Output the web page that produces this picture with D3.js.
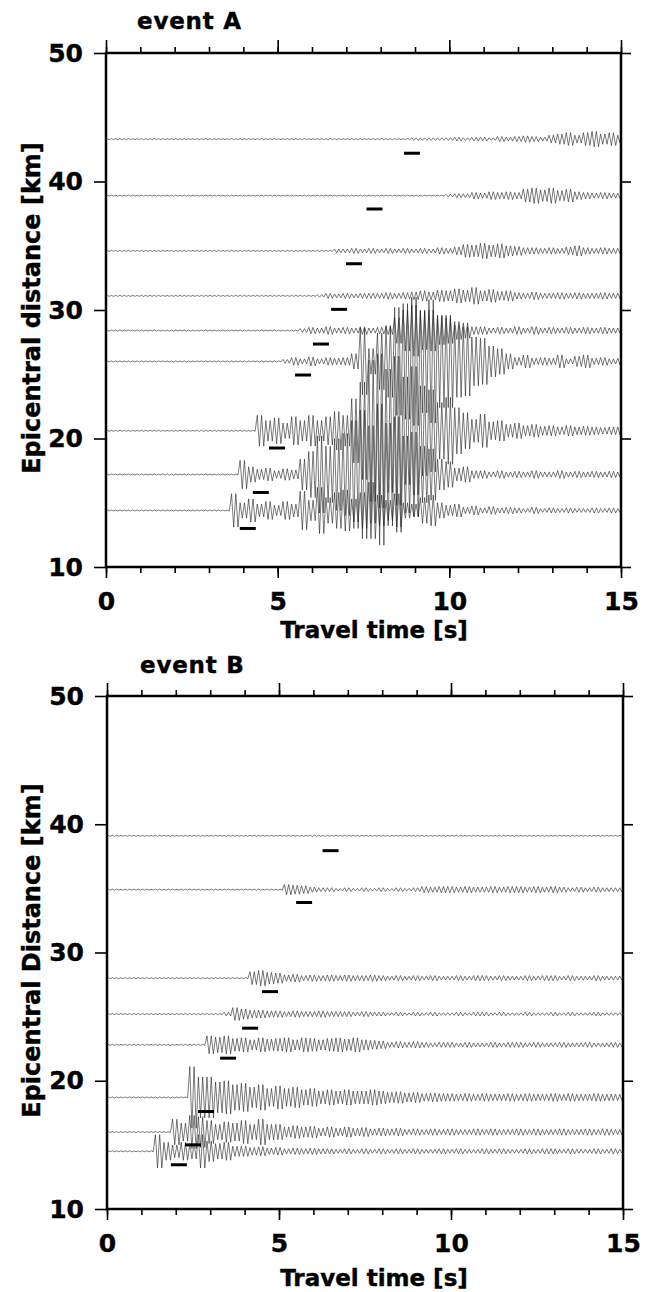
<!DOCTYPE html>
<html>
<head>
    <meta charset="utf-8">
    <title>event A / event B</title>
    <style>
        body { margin: 0; background: #fff; }
        text { font-family: "DejaVu Sans", sans-serif; font-weight: bold; fill: #000; stroke: #000; stroke-width: 0.4px; }
        .tick text { font-size: 25px; }
        .tick line { stroke: #000; stroke-width: 1.6px; }
        path.trace { fill: none; stroke: #222; stroke-width: 0.6px; stroke-linejoin: round; }
        line.pick { stroke: #000; stroke-width: 3px; }
        rect.frame { fill: none; stroke: #000; stroke-width: 2.5px; }
    </style>
</head>
<body>
<script src="https://cdn.jsdelivr.net/npm/d3@7/dist/d3.min.js"></script>
<script>

// amplitude samples are every 0.25 s from 0 to 15 s (61 per trace),
// half peak-to-peak, in units of 0.1 km on the distance axis
var stepT = 0.25;
var timeTicks = [0, 1, 2, 3, 4, 5, 6, 7, 8, 9, 10, 11, 12, 13, 14, 15];
var timeLabels = [0, 5, 10, 15];
var distTicks = [10, 20, 30, 40, 50];

// ---------- event A ----------
var distA = [14.4, 17.2, 20.6, 26.0, 28.4, 31.1, 34.6, 38.9, 43.3];

var a144 = [.4,.4,.4,.4, .4,.4,.4,.4, .4,.4,.4,.4, .4,.5,.4,13, 6,9,5,7, 4,7,5,15, 8,18,10,14,
            16,9,14,22, 12,8,13,6, 5,10,12,6, 4,5,2.5,3.5, 2,3,2,2.5, 2,1.5,2.5,1.5, 2,1.5,2,1.5,
            1.5,2,1.5,2, 1.5];
var a172 = [.4,.4,.4,.4, .4,.4,.4,.6, .4,.4,.4,.4, .4,.4,.4,.4, 11,6,4,5, 3,4.5,3.5,12, 18,30,22,28,
            32,42,50,38, 55,40,45,30, 33,22,20,12, 10,5,6,3, 3,2,3,2, 2.5,2,3,2, 2,3,2,2.5,
            2,2.5,2,2.5, 2];
var a206 = [.4,.4,.4,.4, .4,.4,.4,.4, .4,.4,.4,.6, .4,.4,.4,.4, .4,.4,12,8, 10,6,11,8, 12,8,11,15,
            12,25,38,55, 60,48,58,42, 50,35,32,22, 26,18,14,9, 13,7,8,5, 6,4,5,3.5, 4,3,4,3,
            3.5,3,2.5,3, 3];
var a260 = [.4,.4,.4,.4, .4,.4,.4,.4, .4,.4,.4,.4, .4,.4,.4,.4, .4,.4,.4,.4, .4,1.5,3,2, 3.5,2,3,2.5,
            3,6,26,10, 22,28,42,45, 50,40,48,36, 36,28,27,19, 18,12,10,6, 3,5,2.5,3, 2.5,5,2,4,
            5,2.5,3,2, 2.5];
var a284 = [.4,.4,.4,.4, .4,.4,.4,.4, .4,.4,.4,.4, .4,.4,.4,.4, .4,.4,.4,.4, .4,.4,.4,1.5, 2.5,2,3,2,
            2.5,2,3,2, 2.5,3,10,16, 20,15,16,11, 10,7,6,3, 3,2,2.5,2, 3,2,3,2, 2.5,2,2.5,2,
            2.5,2,2.5,2, 2];
var a311 = [.4,.4,.4,.4, .4,.4,.4,.4, .4,.4,.4,.4, .4,.4,.4,.4, .4,.4,.4,.4, .4,.4,.4,.4, .4,1,2,1.5,
            2,1.5,2,2, 2,2.5,2,2.5, 3,4,3,4.5, 4,5.5,4.5,6.5, 4,5,3.5,4, 2.5,2,3,2, 2,2.5,2,2.5,
            2,2,2.5,2, 2];
var a346 = [.4,.4,.4,.4, .4,.4,.4,.4, .4,.4,.4,.4, .4,.4,.4,.4, .4,.4,.4,.4, .4,.4,.4,.4, .4,.4,.4,1.5,
            1.5,2,1.5,2, 1.5,2,1.5,2, 1.5,2,1.5,2.5, 2,3,5,4.5, 6,4.5,5.5,4, 3.5,2.5,2.5,2, 2.5,2,3,4,
            2.5,2,2.5,2, 2];
var a389 = [.4,.4,.4,.4, .4,.4,.4,.4, .4,.4,.4,.4, .4,.4,.4,.4, .4,.4,.4,.4, .4,.4,.4,.4, .4,.4,.4,.4,
            .4,.4,.4,.4, .4,.4,.4,.4, .4,.4,.4,.4, 1,1.5,1.5,2.5, 2,3,2.5,3, 2.5,5,6,4.5, 6,4,5,3,
            2.5,2,2.5,2, 2];
var a433 = [.4,.4,.4,.4, .4,.4,.4,.4, .4,.4,.4,.4, .4,.4,.4,.4, .4,.4,.4,.4, .4,.4,.4,.4, .4,.4,.4,.4,
            .4,.4,.4,.4, .4,.4,.4,.4, 1,1,1,1, 1,1.5,1,1.5, 1.5,1,2,1.5, 2,2.5,2,1.5, 3,4,5,3,
            5,6,4,5, 3];
var ampA = [a144, a172, a206, a260, a284, a311, a346, a389, a433];

// arrival picks (time in s, distance of the bar in km)
var pickTA = [4.13, 4.51, 4.98, 5.74, 6.26, 6.79, 7.22, 7.82, 8.91];
var pickKmA = [13.0, 15.8, 19.26, 24.94, 27.35, 30.05, 33.6, 37.86, 42.2];

// ---------- event B ----------
var distB = [14.5, 16.0, 18.7, 22.8, 25.2, 28.0, 34.9, 39.1];

var b145 = [.4,.4,.4,.4, .4,.4,13,7, 5,7,6,13, 8,6,7,4, 4,3,3.5,2.5, 3,2,2.5,2, 2.5,2,2,1.5,
            2,1.5,2,1.5, 2,1.5,2,1.5, 2,1.5,1.5,2, 1.5,2,1.5,1.5, 2,1.5,2,1.5, 1.5,2,1.5,2, 2,1.5,2,1.5,
            1.5,2,1.5,2, 1.5];
var b160 = [.4,.4,.4,.4, .4,.4,.4,.4, 10,7,13,12, 9,6,8,7, 9,6,10,6, 6,4,5,4, 4.5,3,4,3,
            4,3,3.5,2.5, 3,2.5,3,2, 2.5,2,2.5,2, 2.5,2,2,2.5, 2,2.5,2,2, 2.5,2,2.5,2, 2,2.5,2,2,
            2.5,2,2.5,2, 2];
var b187 = [.4,.4,.4,.4, .4,.4,.4,.4, .4,.4,24,16, 16,12,13,10, 11,8,10,7, 9,7,8,6, 7,5,6,5,
            6,5,5,6, 5,4,4.5,3.5, 4,3,3.5,3, 3,2.5,3,2.5, 3,2.5,2.5,3, 2.5,3,2.5,2.5, 3,2.5,3,2.5,
            2.5,3,2.5,2.5, 2.5];
var b228 = [.4,.4,.4,.4, .4,.4,.4,.4, .4,.4,.4,.4, 7,6,7,5, 5.5,4,5.5,4.5, 5,5.5,4,5.5, 5,4,5,5.5,
            4.5,5.5,4,3.5, 3,2,2.5,2, 2.5,2,1.5,2, 2,1.5,2,1.5, 1.5,2,1.5,2, 2,1.5,2,1.5, 1.5,2,1.5,1.5,
            2,1.5,1.5,2, 1.5];
var b252 = [.4,.4,.4,.4, .4,.4,.4,.4, .4,.4,.4,.4, .4,.4,1.5,5, 4,3,3,2.5, 2.5,2,2.5,2, 2,2.5,2,2,
            2,1.5,2,1.5, 1.5,1,1.5,1, 1.5,1,1.5,1, 1,1.5,1,1.5, 1.5,1,1.5,1, 1,1.5,1,1, 1.5,1,1.5,1,
            1,1.5,1,1, 1];
var b280 = [.4,.4,.4,.4, .4,.4,.4,.4, .4,.4,.4,.4, .4,.4,.4,.4, .4,5,6,4.5, 4,2.5,3,2, 2.5,2,2.5,2,
            2.5,2,2,2.5, 2,1.5,2,1.5, 2,1.5,2,1.5, 1.5,2,1.5,2, 2,1.5,2,1.5, 1.5,2,1.5,2, 2,1.5,2,1.5,
            1.5,2,1.5,1.5, 1.5];
var b349 = [.4,.4,.4,.4, .4,.4,.4,.4, .4,.4,.4,.4, .4,.4,.4,.4, .4,.4,.4,.4, .4,4,3.5,3, 2,1.5,1.5,1,
            1.5,1,1.5,1, 1.5,1,1.5,1, 1.5,2.5,2,2.5, 2.5,2,2.5,2, 2,2.5,2,2.5, 2.5,2,2.5,2, 2.5,2,1.5,2,
            1.5,2,1.5,1.5, 1.5];
var b391 = [.4,.4,.4,.4, .4,.4,.4,.4, .4,.4,.4,.4, .4,.4,.4,.4, .4,.4,.4,.4, .4,.4,.4,.4, .6,.6,.4,.4,
            .4,.4,.4,.4, .4,.4,.4,.4, .4,.4,.4,.4, .4,.4,.4,.4, .4,.4,.4,.4, .4,.4,.4,.4, .4,.4,.4,.4,
            .4,.4,.4,.4, .4];
var ampB = [b145, b160, b187, b228, b252, b280, b349, b391];

var pickTB = [2.09, 2.5, 2.88, 3.52, 4.16, 4.74, 5.73, 6.50];
var pickKmB = [13.45, 15.0, 17.6, 21.76, 24.1, 26.95, 33.9, 37.94];


var svg = d3.select("body").append("svg")
    .attr("width", 653)
    .attr("height", 1292);

drawPanel({
    title: "event A", titleX: 137, titleY: 29,
    ylabel: "Epicentral distance [km]",
    xRange: [106, 621], yRange: [567, 53], xlabelY: 638,
    dist: distA, amps: ampA, pickT: pickTA, pickKm: pickKmA
});

drawPanel({
    title: "event B", titleX: 140, titleY: 673,
    ylabel: "Epicentral Distance [km]",
    xRange: [107, 623], yRange: [1209, 696], xlabelY: 1286,
    dist: distB, amps: ampB, pickT: pickTB, pickKm: pickKmB
});


function drawPanel(p) {
    var x = d3.scaleLinear().domain([0, 15]).range(p.xRange);
    var y = d3.scaleLinear().domain([10, 50]).range(p.yRange);
    var g = svg.append("g");

    // each sample's swing drawn as a short comb of up/down strokes
    var line = d3.line()
        .x(function (d) { return x(d[0]); })
        .y(function (d) { return y(d[1]); });

    var offs = [-3 / 8, -1 / 8, 1 / 8, 3 / 8];

    p.dist.forEach(function (km, k) {
        var pts = [];
        p.amps[k].forEach(function (a, i) {
            var t = i * stepT;
            offs.forEach(function (o, j) {
                var tt = Math.min(15, Math.max(0, t + o * stepT));
                pts.push([tt, km + (j % 2 ? -a : a) / 10]);
            });
        });
        g.append("path")
            .attr("class", "trace")
            .attr("d", line(pts));
    });

    // arrival bars
    g.selectAll("line.pick")
        .data(p.pickT)
        .enter().append("line")
        .attr("class", "pick")
        .attr("x1", function (d) { return x(d) - 8; })
        .attr("x2", function (d) { return x(d) + 8; })
        .attr("y1", function (d, i) { return y(p.pickKm[i]); })
        .attr("y2", function (d, i) { return y(p.pickKm[i]); });

    var x0 = p.xRange[0], x1 = p.xRange[1], y0 = p.yRange[1], y1 = p.yRange[0];

    // axes
    var left = g.append("g").attr("transform", "translate(" + x0 + ",0)")
        .call(d3.axisLeft(y).tickValues(distTicks).tickSize(12).tickPadding(11));
    var right = g.append("g").attr("transform", "translate(" + x1 + ",0)")
        .call(d3.axisRight(y).tickValues(distTicks).tickSize(10).tickFormat(""));
    var topMinor = g.append("g").attr("transform", "translate(0," + y0 + ")")
        .call(d3.axisTop(x).tickValues(timeTicks).tickSize(6).tickFormat(""));
    var topMajor = g.append("g").attr("transform", "translate(0," + y0 + ")")
        .call(d3.axisTop(x).tickValues(timeLabels).tickSize(13).tickFormat(""));
    var botMinor = g.append("g").attr("transform", "translate(0," + y1 + ")")
        .call(d3.axisBottom(x).tickValues(timeTicks).tickSize(6).tickFormat(""));
    var botMajor = g.append("g").attr("transform", "translate(0," + y1 + ")")
        .call(d3.axisBottom(x).tickValues(timeLabels).tickSize(11).tickPadding(14));

    [left, right, topMinor, topMajor, botMinor, botMajor].forEach(function (a) {
        a.select(".domain").remove();
    });

    g.append("rect")
        .attr("class", "frame")
        .attr("x", x0).attr("y", y0)
        .attr("width", x1 - x0).attr("height", y1 - y0);

    // titles
    g.append("text")
        .attr("x", p.titleX).attr("y", p.titleY)
        .style("font-size", "23px")
        .style("letter-spacing", "0.8px")
        .text(p.title);

    g.append("text")
        .attr("x", 374).attr("y", p.xlabelY)
        .attr("text-anchor", "middle")
        .style("font-size", "23px")
        .text("Travel time [s]");

    g.append("text")
        .attr("transform", "translate(40," + ((y0 + y1) / 2 - 2) + ") rotate(-90)")
        .attr("text-anchor", "middle")
        .style("font-size", "24px")
        .text(p.ylabel);
}

</script>
</body>
</html>
